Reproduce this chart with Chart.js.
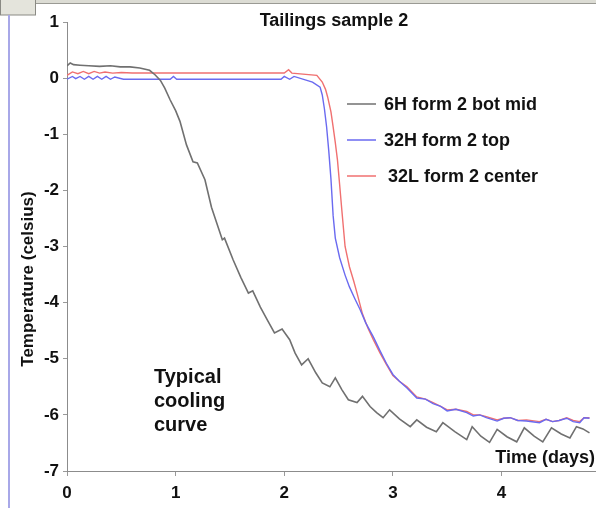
<!DOCTYPE html>
<html>
<head>
<meta charset="utf-8">
<script src="https://cdn.jsdelivr.net/npm/chart.js@4/dist/chart.umd.min.js"></script>
<style>
html,body{margin:0;padding:0;background:#fff;}
#wrap{width:596px;height:508px;position:relative;}
</style>
</head>
<body>
<div id="wrap"><canvas id="c" width="596" height="508"></canvas></div>
<script>
// ---- data ----
const chartTitle = "Tailings sample 2";
const xAxisTitle = "Time (days)";
const yAxisTitle = "Temperature (celsius)";
const noteLines = ["Typical", "cooling", "curve"];
const xTicks = [0, 1, 2, 3, 4];
const yTicks = [1, 0, -1, -2, -3, -4, -5, -6, -7];
const seriesNames = ["6H form 2 bot mid", "32H form 2 top", "32L form 2 center"];

const blackDays = [0, 0.03, 0.06, 0.12, 0.2, 0.3, 0.4, 0.49, 0.58, 0.67, 0.76, 0.81, 0.86, 0.90, 0.95, 1.00, 1.04, 1.10, 1.16, 1.20, 1.27, 1.33, 1.43, 1.45, 1.53, 1.60, 1.67, 1.71, 1.78, 1.85, 1.91, 1.98, 2.05, 2.10, 2.16, 2.22, 2.29, 2.35, 2.42, 2.47, 2.53, 2.59, 2.67, 2.72, 2.79, 2.85, 2.91, 2.97, 3.06, 3.16, 3.22, 3.31, 3.40, 3.46, 3.57, 3.68, 3.73, 3.81, 3.89, 3.96, 4.05, 4.14, 4.21, 4.30, 4.38, 4.46, 4.55, 4.63, 4.69, 4.75, 4.81];
const blackTemp = [0.22, 0.27, 0.24, 0.23, 0.22, 0.21, 0.22, 0.20, 0.20, 0.18, 0.14, 0.06, -0.04, -0.18, -0.39, -0.58, -0.77, -1.19, -1.49, -1.51, -1.81, -2.30, -2.88, -2.85, -3.24, -3.55, -3.83, -3.79, -4.08, -4.33, -4.54, -4.47, -4.66, -4.90, -5.11, -5.00, -5.25, -5.43, -5.50, -5.34, -5.55, -5.73, -5.78, -5.67, -5.85, -5.96, -6.05, -5.91, -6.07, -6.21, -6.09, -6.22, -6.30, -6.14, -6.30, -6.44, -6.21, -6.38, -6.49, -6.26, -6.39, -6.48, -6.23, -6.38, -6.48, -6.23, -6.34, -6.41, -6.21, -6.25, -6.32];

const blueDays = [0, 0.05, 0.08, 0.12, 0.16, 0.2, 0.24, 0.28, 0.32, 0.36, 0.40, 0.44, 0.52, 0.95, 0.98, 1.01, 1.97, 2.0, 2.05, 2.09, 2.26, 2.33, 2.35, 2.37, 2.39, 2.41, 2.43, 2.45, 2.47, 2.51, 2.56, 2.60, 2.65, 2.70, 2.75, 2.82, 2.88, 2.94, 3.0, 3.06, 3.13, 3.22, 3.30, 3.37, 3.44, 3.50, 3.58, 3.68, 3.74, 3.80, 3.86, 3.96, 4.02, 4.08, 4.15, 4.23, 4.35, 4.41, 4.47, 4.53, 4.60, 4.66, 4.72, 4.76, 4.81];
const blueTemp = [-0.02, 0.03, -0.01, 0.03, -0.02, 0.03, -0.02, 0.03, -0.02, 0.03, -0.02, 0.02, -0.02, -0.02, 0.03, -0.02, -0.02, 0.03, -0.02, 0.03, -0.07, -0.16, -0.30, -0.55, -0.87, -1.30, -1.80, -2.45, -2.85, -3.20, -3.51, -3.72, -3.93, -4.13, -4.36, -4.61, -4.85, -5.08, -5.28, -5.40, -5.52, -5.70, -5.72, -5.80, -5.85, -5.93, -5.90, -5.96, -6.02, -6.00, -6.05, -6.11, -6.06, -6.05, -6.10, -6.11, -6.14, -6.08, -6.12, -6.10, -6.06, -6.12, -6.14, -6.05, -6.06];

const redDays = [0, 0.05, 0.1, 0.15, 0.2, 0.25, 0.3, 0.35, 0.42, 0.5, 0.6, 2.0, 2.04, 2.07, 2.30, 2.35, 2.38, 2.40, 2.43, 2.45, 2.47, 2.49, 2.51, 2.53, 2.56, 2.58, 2.60, 2.64, 2.67, 2.72, 2.77, 2.82, 2.88, 2.94, 3.0, 3.06, 3.13, 3.22, 3.30, 3.37, 3.44, 3.50, 3.58, 3.68, 3.74, 3.80, 3.86, 3.96, 4.02, 4.08, 4.15, 4.23, 4.35, 4.41, 4.47, 4.53, 4.60, 4.66, 4.72, 4.76, 4.81];
const redTemp = [0.05, 0.11, 0.08, 0.12, 0.08, 0.12, 0.09, 0.11, 0.09, 0.10, 0.09, 0.09, 0.15, 0.09, 0.05, -0.07, -0.20, -0.34, -0.60, -0.87, -1.15, -1.46, -1.90, -2.35, -3.00, -3.18, -3.36, -3.62, -3.83, -4.20, -4.45, -4.66, -4.89, -5.10, -5.30, -5.40, -5.50, -5.68, -5.72, -5.78, -5.85, -5.91, -5.90, -5.94, -6.00, -6.00, -6.03, -6.09, -6.06, -6.05, -6.10, -6.09, -6.12, -6.08, -6.12, -6.10, -6.05, -6.10, -6.12, -6.05, -6.05];

const toPts = (xs, ys) => xs.map((x, i) => ({ x: x, y: ys[i] }));

const FONT = "'Liberation Sans', Arial, sans-serif";

const decorPlugin = {
  id: 'decor',
  beforeDraw(chart) {
    const ctx = chart.ctx;
    ctx.save();
    ctx.fillStyle = '#ffffff';
    ctx.fillRect(0, 0, chart.width, chart.height);
    ctx.fillStyle = '#dcdcd4';
    ctx.fillRect(0, 0, chart.width, 3);
    ctx.fillStyle = '#9a9a94';
    ctx.fillRect(0, 3, chart.width, 1);
    ctx.fillStyle = '#e4e4dc';
    ctx.fillRect(0, 0, 36, 15);
    ctx.strokeStyle = '#8a8a84';
    ctx.lineWidth = 1;
    ctx.strokeRect(0.5, -1, 35, 16);
    ctx.fillStyle = '#a8a8e8';
    ctx.fillRect(8, 15, 2, chart.height - 15);
    ctx.restore();
  },
  afterDraw(chart) {
    const ctx = chart.ctx;
    const ds = chart.data.datasets;
    ctx.save();
    ctx.fillStyle = '#111';
    ctx.textBaseline = 'alphabetic';
    ctx.font = 'bold 18px ' + FONT;
    ctx.textAlign = 'center';
    ctx.fillText(chartTitle, 334, 26);
    ctx.textAlign = 'left';
    ctx.font = 'bold 18px ' + FONT;
    const legY = [104, 140, 176];
    ds.forEach((d, i) => {
      ctx.strokeStyle = d.borderColor;
      ctx.lineWidth = 1.5;
      ctx.beginPath();
      ctx.moveTo(347, legY[i]);
      ctx.lineTo(376, legY[i]);
      ctx.stroke();
      ctx.fillStyle = '#111';
      ctx.fillText(d.label, i === 2 ? 388 : 384, legY[i] + 6);
    });
    ctx.font = 'bold 20px ' + FONT;
    const noteBase = [383, 407, 431];
    noteLines.forEach((t, i) => ctx.fillText(t, 154, noteBase[i]));
    ctx.font = 'bold 18px ' + FONT;
    ctx.textAlign = 'right';
    ctx.fillText(xAxisTitle, 595, 463);
    ctx.font = 'bold 17px ' + FONT;
    ctx.translate(28, 279);
    ctx.rotate(-Math.PI / 2);
    ctx.textAlign = 'center';
    ctx.textBaseline = 'middle';
    ctx.fillText(yAxisTitle, 0, 0);
    ctx.restore();
  }
};

new Chart(document.getElementById('c'), {
  type: 'line',
  data: {
    datasets: [
      { label: seriesNames[0], data: toPts(blackDays, blackTemp), borderColor: '#707070', borderWidth: 1.6, pointRadius: 0, tension: 0 },
      { label: seriesNames[1], data: toPts(blueDays, blueTemp), borderColor: '#6a6af0', borderWidth: 1.4, pointRadius: 0, tension: 0 },
      { label: seriesNames[2], data: toPts(redDays, redTemp), borderColor: '#f07070', borderWidth: 1.4, pointRadius: 0, tension: 0 }
    ]
  },
  options: {
    responsive: false,
    animation: false,
    events: [],
    layout: { padding: { top: 22, right: 0, left: 0, bottom: 0 } },
    plugins: { legend: { display: false }, title: { display: false }, tooltip: { enabled: false } },
    scales: {
      x: {
        type: 'linear',
        min: 0,
        max: 4.87,
        afterBuildTicks: s => { s.ticks = xTicks.map(v => ({ value: v })); },
        afterFit: s => { s.height = 37; },
        grid: { drawOnChartArea: false, drawTicks: true, tickLength: 5, color: '#999' },
        border: { color: '#8c8c8c', width: 1 },
        ticks: { color: '#111', font: { family: FONT, size: 17, weight: 'bold' }, padding: 7, maxRotation: 0 }
      },
      y: {
        type: 'linear',
        min: -7,
        max: 1,
        afterBuildTicks: s => { s.ticks = yTicks.map(v => ({ value: v })); },
        afterFit: s => { s.width = 67; },
        grid: { drawOnChartArea: false, drawTicks: true, tickLength: 4, color: '#999' },
        border: { color: '#8c8c8c', width: 1 },
        ticks: { color: '#111', font: { family: FONT, size: 17, weight: 'bold' }, padding: 4 }
      }
    }
  },
  plugins: [decorPlugin]
});
</script>
</body>
</html>
